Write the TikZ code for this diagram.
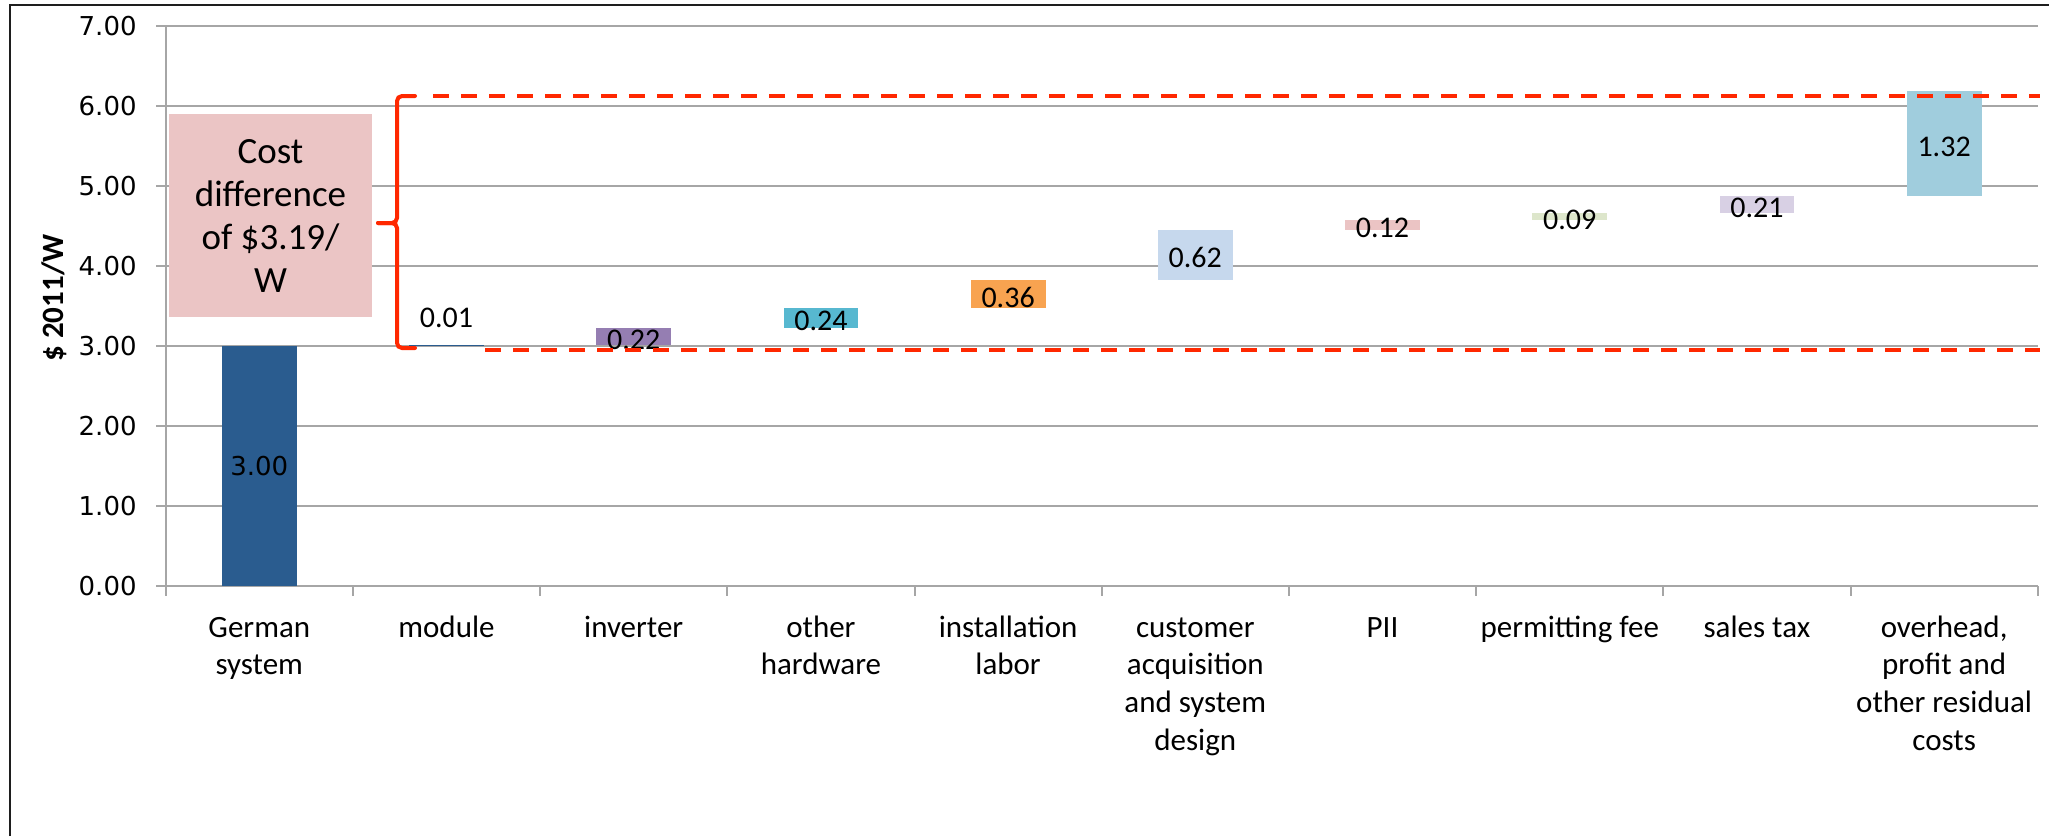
\documentclass[tikz,border=0pt]{standalone}
\usepackage{fontspec}
\setmainfont{Carlito}
\newfontfamily\verd{DejaVu Sans}
\definecolor{gridgray}{RGB}{166,166,166}
\definecolor{framec}{RGB}{30,30,30}
\definecolor{cGerman}{RGB}{42,92,143}
\definecolor{cInv}{RGB}{149,126,178}
\definecolor{cHw}{RGB}{87,184,208}
\definecolor{cInst}{RGB}{248,163,80}
\definecolor{cCust}{RGB}{198,216,237}
\definecolor{cPII}{RGB}{235,196,196}
\definecolor{cPerm}{RGB}{221,230,203}
\definecolor{cTax}{RGB}{216,208,228}
\definecolor{cOver}{RGB}{160,205,221}
\definecolor{cBox}{RGB}{235,197,197}
\definecolor{redc}{RGB}{255,40,0}
\begin{document}
\begin{tikzpicture}[x=0.5pt,y=-0.5pt,
  grid/.style={draw=gridgray,line width=1pt},
  ytick/.style={font=\verd\fontsize{13}{15}\selectfont,anchor=east,inner sep=0pt},
  dlab/.style={font=\fontsize{15}{18}\selectfont,inner sep=0pt,yshift=-1.5pt},
  catlab/.style={anchor=base,inner sep=0pt},
  reddash/.style={draw=redc,line width=2pt,dash pattern=on 8pt off 6pt},
  bracec/.style={draw=redc,line width=2pt,rounded corners=2.5pt,line cap=round}]
\useasboundingbox (0,0) rectangle (2049,836);
\fill[white] (0,0) rectangle (2049,836);
% frame
\draw[framec,line width=1.2pt] (10,836) -- (10,5) -- (2049,5);
% gridlines and axes
\foreach \v in {1,...,7} {\draw[grid] (156,{586-80*\v}) -- (2038,{586-80*\v});}
\draw[grid] (166,26) -- (166,586);
\draw[grid] (156,586) -- (2038,586);
\foreach \i in {0,...,10} {\draw[grid] ({165.7+187.2*\i},586) -- ({165.7+187.2*\i},596);}
% y tick labels
\node[ytick] (y0) at (137,586) {0.00};
\node[ytick] (y1) at (137,506) {1.00};
\node[ytick] (y2) at (137,426) {2.00};
\node[ytick] (y3) at (137,346) {3.00};
\node[ytick] (y4) at (137,266) {4.00};
\node[ytick] (y5) at (137,186) {5.00};
\node[ytick] (y6) at (137,106) {6.00};
\node[ytick] (y7) at (137,26) {7.00};
% axis title
\node[rotate=90,inner sep=0pt,font=\bfseries\fontsize{15.5}{18}\selectfont] (title) at (54,298) {\$ 2011/W};
% bars
\fill[cGerman] (221.9,346) rectangle (296.7,586);
\draw[cGerman,line width=0.6pt] (409.1,345.6) -- (483.9,345.6);
\fill[cInv] (596.3,327.6) rectangle (671.1,345.2);
\fill[cHw] (783.5,308.4) rectangle (858.3,327.6);
\fill[cInst] (970.7,279.6) rectangle (1045.5,308.4);
\fill[cCust] (1157.9,230) rectangle (1232.7,279.6);
\fill[cPII] (1345.1,220.4) rectangle (1419.9,230);
\fill[cPerm] (1532.3,213.2) rectangle (1607.1,220.4);
\fill[cTax] (1719.5,196.4) rectangle (1794.3,213.2);
\fill[cOver] (1906.7,90.8) rectangle (1981.5,196.4);
% data labels
\node[inner sep=0pt,font=\verd\fontsize{13}{15}\selectfont] (l1) at (259.3,466) {3.00};
\node[dlab] (l2) at (446.5,315) {0.01};
\node[dlab] (l3) at (633.7,336.4) {0.22};
\node[dlab] (l4) at (820.9,318) {0.24};
\node[dlab] (l5) at (1008.1,294) {0.36};
\node[dlab] (l6) at (1195.3,254.8) {0.62};
\node[dlab] (l7) at (1382.5,225.2) {0.12};
\node[dlab] (l8) at (1569.7,216.8) {0.09};
\node[dlab] (l9) at (1756.9,204.8) {0.21};
\node[dlab] (l10) at (1944.1,143.6) {1.32};
% category labels
\newcommand{\catbox}[1]{\parbox[t]{92pt}{\centering\fontsize{15.5}{18.9}\selectfont #1}}
\node[catlab] (c1) at (259.3,637) {\catbox{German\\system}};
\node[catlab] (c2) at (446.5,637) {\catbox{module}};
\node[catlab] (c3) at (633.7,637) {\catbox{inverter}};
\node[catlab] (c4) at (820.9,637) {\catbox{other\\hardware}};
\node[catlab] (c5) at (1008.1,637) {\catbox{installation\\labor}};
\node[catlab] (c6) at (1195.3,637) {\catbox{customer\\acquisition\\and system\\design}};
\node[catlab] (c7) at (1382.5,637) {\catbox{PII}};
\node[catlab] (c8) at (1569.7,637) {\catbox{permitting fee}};
\node[catlab] (c9) at (1756.9,637) {\catbox{sales tax}};
\node[catlab] (c10) at (1944.1,637) {\catbox{overhead,\\profit and\\other residual\\costs}};
% cost difference box
\node[fill=cBox,minimum width=101.5pt,minimum height=101.5pt,inner sep=0pt,align=center,
  font=\fontsize{18.5}{21.5}\selectfont] (costbox) at (270.5,215.5) {Cost\\difference\\of \$3.19/\\W};
% brace and dashed lines
\coordinate (btop) at (415,96);
\coordinate (bbot) at (415,348);
\coordinate (btip) at (378,223);
\draw[bracec] (btop) -- (397,96) -- (397,223) -- (btip);
\draw[bracec] (btip) -- (397,223) -- (397,348) -- (bbot);
\coordinate (d1a) at (433,96);
\coordinate (d1b) at (2040,96);
\coordinate (d2a) at (485,350);
\coordinate (d2b) at (2040,350);
\draw[reddash] (d1a) -- (d1b);
\draw[reddash] (d2a) -- (d2b);
\end{tikzpicture}
\end{document}
